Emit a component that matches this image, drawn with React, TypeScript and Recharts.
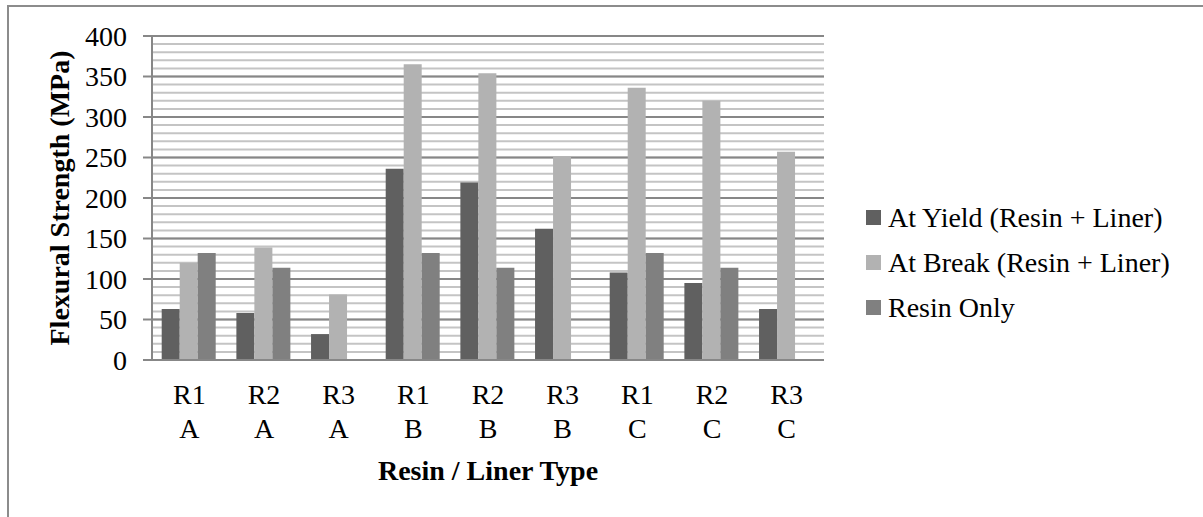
import React from "react";
import {
  BarChart,
  Bar,
  XAxis,
  YAxis,
  CartesianGrid,
  Legend,
  Label,
} from "recharts";

const resins = ["R1", "R2", "R3", "R1", "R2", "R3", "R1", "R2", "R3"];
const liners = ["A", "A", "A", "B", "B", "B", "C", "C", "C"];

const atYield = [63, 58, 32, 236, 219, 162, 108, 95, 63];
const atBreak = [120, 139, 81, 365, 354, 251, 336, 320, 257];
const resinOnly = [132, 114, null, 132, 114, null, 132, 114, null];

const seriesNames = [
  "At Yield (Resin + Liner)",
  "At Break (Resin + Liner)",
  "Resin Only",
];
const seriesColors = ["#606060", "#b2b2b2", "#808080"];

const yTicks = [0, 50, 100, 150, 200, 250, 300, 350, 400];
// minor gridlines every 10 MPa
const minorTicks = Array.from({ length: 41 }, (_, k) => k * 10);

const FONT = "'Liberation Serif', 'Times New Roman', serif";
const AXIS = "#878787";

const data = resins.map((r, i) => ({
  name: `${r} ${liners[i]}`,
  yield: atYield[i],
  brk: atBreak[i],
  only: resinOnly[i],
}));

function CategoryTick(props: any) {
  const { x, y, payload, index } = props;
  return (
    <text
      x={x}
      y={y}
      textAnchor="middle"
      fontFamily={FONT}
      fontSize={28}
      fill="#000"
    >
      <tspan x={x} dy={44}>
        {resins[index] ?? payload.value}
      </tspan>
      <tspan x={x} dy={34}>
        {liners[index]}
      </tspan>
    </text>
  );
}

function LegendBox(props: any) {
  const items = [...(props.payload || [])].sort(
    (a: any, b: any) => seriesNames.indexOf(a.value) - seriesNames.indexOf(b.value)
  );
  return (
    <div style={{ paddingLeft: 42, fontFamily: FONT, fontSize: 28 }}>
      {items.map((p: any) => (
        <div
          key={p.value}
          style={{
            display: "flex",
            alignItems: "center",
            height: 45,
            color: "#000",
            whiteSpace: "nowrap",
          }}
        >
          <span
            style={{
              display: "inline-block",
              flex: "none",
              width: 15,
              height: 15,
              background: p.color,
              marginRight: 7,
            }}
          />
          <span>{p.value}</span>
        </div>
      ))}
    </div>
  );
}

export default function App() {
  return (
    <div
      style={{
        position: "fixed",
        left: 0,
        top: 0,
        width: 1203,
        height: 517,
        overflow: "hidden",
        background: "#fff",
      }}
    >
      <div
        style={{
          position: "absolute",
          left: 7,
          top: 5,
          width: 1400,
          height: 700,
          border: "2px solid #8c8c8c",
        }}
      />
      <div style={{ position: "absolute", left: 0, top: 0 }}>
        <BarChart
          width={1203}
          height={517}
          data={data}
          margin={{ top: 36, right: 39, bottom: 0, left: 0 }}
          barCategoryGap="13%"
          barGap={0}
        >
          <CartesianGrid
            vertical={false}
            stroke="#c4c4c4"
            strokeWidth={2}
            horizontalValues={minorTicks}
          />
          <CartesianGrid vertical={false} stroke={AXIS} strokeWidth={2} />
          <XAxis
            dataKey="name"
            height={157}
            tickLine={false}
            tickSize={0}
            tickMargin={0}
            interval={0}
            axisLine={{ stroke: AXIS, strokeWidth: 2 }}
            tick={<CategoryTick />}
          >
            <Label
              content={({ viewBox }: any) => (
                <text
                  x={viewBox.x + viewBox.width / 2}
                  y={viewBox.y + 120}
                  textAnchor="middle"
                  fontFamily={FONT}
                  fontSize={28}
                  fontWeight="bold"
                  fill="#000"
                >
                  Resin / Liner Type
                </text>
              )}
            />
          </XAxis>
          <YAxis
            width={152}
            domain={[0, 400]}
            ticks={yTicks}
            interval={0}
            tickSize={9}
            tickMargin={16}
            tickLine={{ stroke: AXIS, strokeWidth: 2 }}
            axisLine={{ stroke: AXIS, strokeWidth: 2 }}
            tick={{ fontFamily: FONT, fontSize: 28, fill: "#000" }}
          >
            <Label
              content={({ viewBox }: any) => {
                const cx = viewBox.x + 59;
                const cy = viewBox.y + viewBox.height / 2;
                return (
                  <text
                    x={cx}
                    y={cy}
                    transform={`rotate(-90 ${cx} ${cy})`}
                    textAnchor="middle"
                    dominantBaseline="central"
                    fontFamily={FONT}
                    fontSize={28}
                    fontWeight="bold"
                    fill="#000"
                  >
                    Flexural Strength (MPa)
                  </text>
                );
              }}
            />
          </YAxis>
          <Legend
            layout="vertical"
            align="right"
            verticalAlign="top"
            width={340}
            wrapperStyle={{ top: 195 }}
            content={<LegendBox />}
          />
          <Bar
            dataKey="yield"
            name={seriesNames[0]}
            fill={seriesColors[0]}
            isAnimationActive={false}
          />
          <Bar
            dataKey="brk"
            name={seriesNames[1]}
            fill={seriesColors[1]}
            isAnimationActive={false}
          />
          <Bar
            dataKey="only"
            name={seriesNames[2]}
            fill={seriesColors[2]}
            isAnimationActive={false}
          />
        </BarChart>
      </div>
    </div>
  );
}
